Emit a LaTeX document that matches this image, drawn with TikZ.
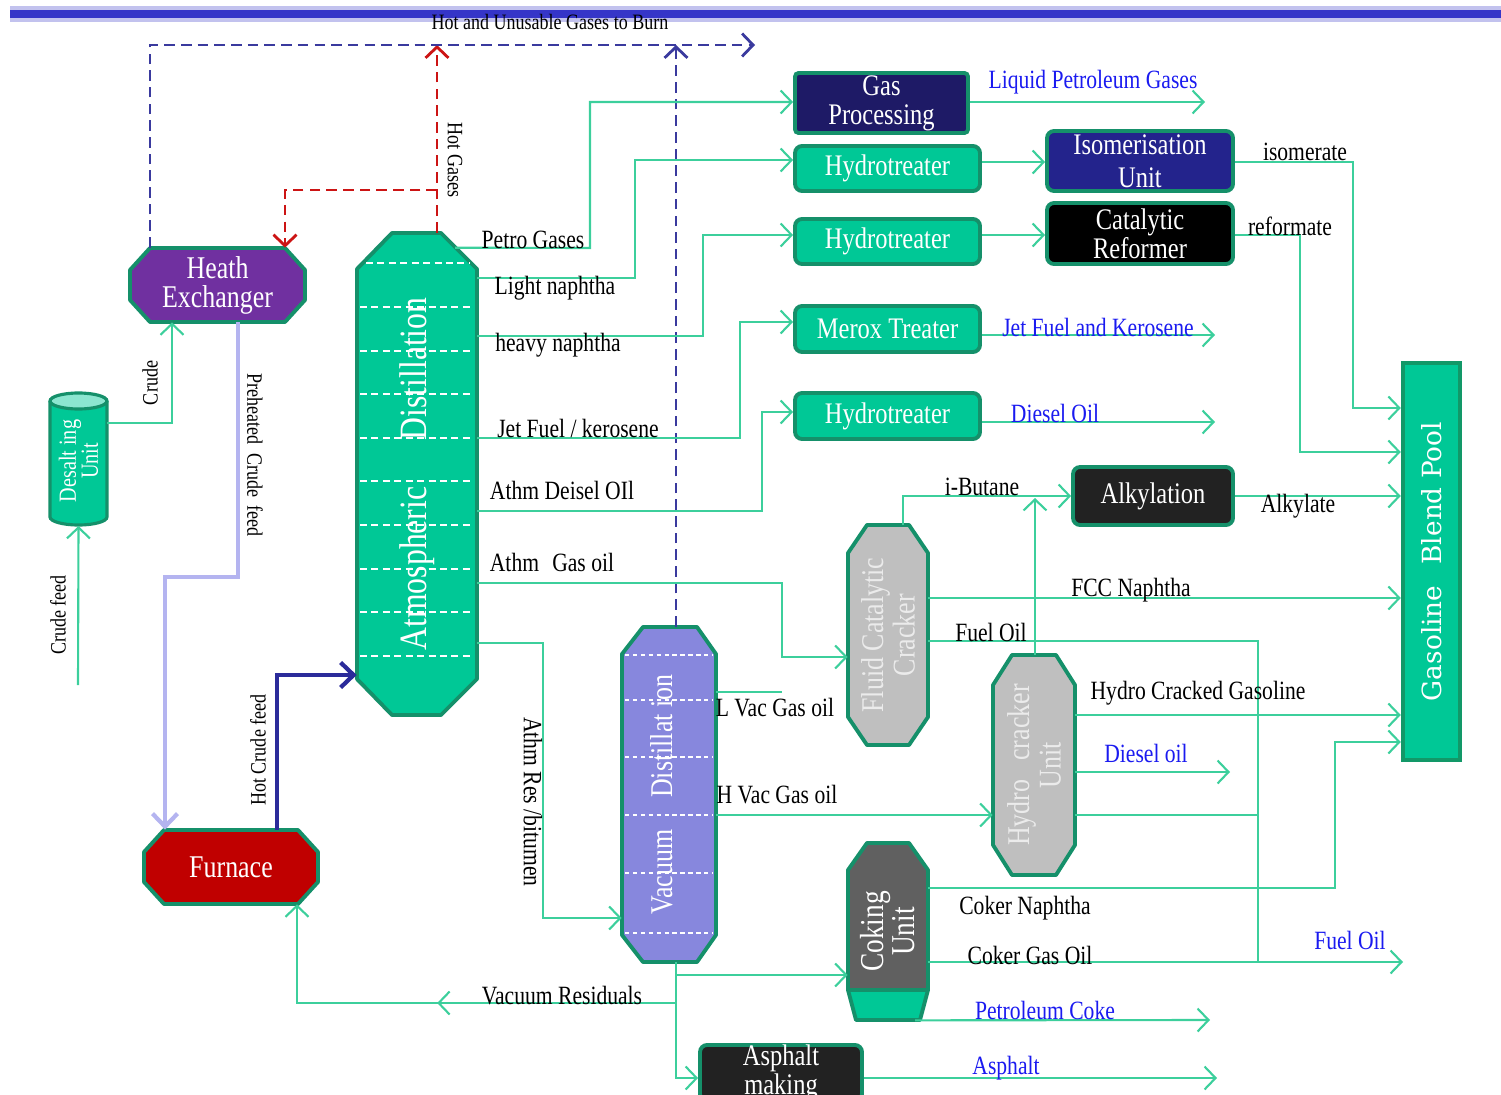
\documentclass[tikz,border=0pt]{standalone}
\usepackage{fontspec}
\setmainfont{Liberation Serif}[FakeStretch=0.82]
\newfontfamily\poolfont{DejaVu Serif}
\usepackage{tikz}
\usetikzlibrary{shapes, arrows.meta, positioning, calc, decorations.markings}

\definecolor{unitgreen}{HTML}{00C896}
\definecolor{unitedge}{HTML}{15906A}
\definecolor{flowgreen}{HTML}{3CCF9C}
\definecolor{hxpurple}{HTML}{7030A0}
\definecolor{furnred}{HTML}{C00000}
\definecolor{vacviolet}{HTML}{8787DD}
\definecolor{crackgray}{HTML}{BFBFBF}
\definecolor{cokegray}{HTML}{606060}
\definecolor{gasnavy}{HTML}{1E1A66}
\definecolor{isonavy}{HTML}{23238C}
\definecolor{alkyblack}{HTML}{222222}
\definecolor{prodblue}{HTML}{1A1AF0}
\definecolor{burnblue}{HTML}{3A3A9E}
\definecolor{hotred}{HTML}{CC1414}
\definecolor{hotnavy}{HTML}{2B2B9A}
\definecolor{preblue}{HTML}{B4B4F0}
\definecolor{bandblue}{HTML}{3535C8}
\definecolor{pooledge}{HTML}{129868}

\begin{document}
\begin{tikzpicture}[
				x=0.02cm, y=-0.02cm,
				unit/.style={
					rectangle,
					draw=unitedge,
					line width=2.2pt,
					text=white,
					align=center,
					inner sep=0pt,
					rounded corners=4pt,
					font=\fontsize{17}{15}\selectfont
				},
				shell/.style={
					rectangle,
					inner sep=0pt,
					text=white,
					align=center,
					font=\fontsize{18}{15}\selectfont
				},
				octedge/.style={draw=unitedge, line width=2.2pt, line join=round},
				trays/.style={draw=white, line width=0.8pt, dash pattern=on 4pt off 2.5pt},
				coltext/.style={rotate=90, text=white, align=center, inner sep=0pt},
				flow/.style={draw=flowgreen, line width=1.2pt},
				arrow/.style={
					flow,
					-{Straight Barb[length=2.2mm, width=4.6mm]}
				},
				midarrow/.style={
					postaction={decorate, decoration={markings,
						mark=at position 0.5 with {\arrow{Straight Barb[length=2.2mm, width=4.6mm]}}}}
				},
				burn/.style={
					draw=burnblue,
					line width=1.6pt,
					dash pattern=on 6pt off 3.5pt,
					-{Straight Barb[length=2.2mm, width=4.6mm]}
				},
				hotgas/.style={burn, draw=hotred},
				preheat/.style={draw=preblue, line width=2.4pt, -{Straight Barb[length=2.6mm, width=5mm]}},
				hotfeed/.style={draw=hotnavy, line width=2.4pt, -{Straight Barb[length=2.6mm, width=5mm]}},
				lbl/.style={inner sep=0pt, font=\fontsize{15}{15}\selectfont},
				prod/.style={lbl, text=prodblue},
				note/.style={inner sep=0pt, font=\fontsize{12.5}{12.5}\selectfont}
				]
				\useasboundingbox (0,0) rectangle (1501,1095);
				
				% Banner at the top
				\draw[draw=bandblue!30, line width=2pt] (10,8) -- (1501,8);
				\draw[draw=bandblue!30, line width=2pt] (10,20) -- (1501,20);
				\draw[draw=bandblue, line width=4pt] (10,14) -- (1501,14);
				
				% Block 1: Heat exchanger
				\draw[octedge, fill=hxpurple] (150,248) -- (285,248) -- (305,270) -- (305,300) -- (285,322) -- (150,322) -- (130,300) -- (130,270) -- cycle;
				\node[shell, minimum width=3.5cm, minimum height=1.48cm, font=\fontsize{18}{16.5}\selectfont] (heatex) at (217.5,285) {Heath\\Exchanger};
				
				% Block 2: Desalting unit
				\fill[unitgreen] (50,401) -- (50,517) arc[start angle=180, end angle=360, x radius=0.57cm, y radius=0.16cm] -- (107,401) -- cycle;
				\draw[unitedge, line width=1.8pt] (50,401) -- (50,517) arc[start angle=180, end angle=360, x radius=0.57cm, y radius=0.16cm] -- (107,401);
				\draw[unitedge, line width=1.8pt, fill=unitgreen!45!white] (78.5,401) ellipse[x radius=0.57cm, y radius=0.16cm];
				\node[rectangle, inner sep=0pt, minimum width=1.14cm, minimum height=2.64cm,
					label={[coltext, font=\fontsize{14}{12.5}\selectfont]center:Desalt ing\\Unit}] (desalt) at (78.5,461) {};
				
				% Block 3: Furnace
				\draw[octedge, fill=furnred] (164,830) -- (298,830) -- (318,852) -- (318,882) -- (298,904) -- (164,904) -- (144,882) -- (144,852) -- cycle;
				\node[shell, minimum width=3.48cm, minimum height=1.48cm] (furnace) at (231,867) {Furnace};
				
				% Block 4: Atmospheric distillation
				\draw[octedge, fill=unitgreen] (392,233) -- (441,233) -- (477,269) -- (477,679) -- (441,715) -- (392,715) -- (357,679) -- (357,269) -- cycle;
				\draw[trays] (366,263) -- (469,263);
				\foreach \yy in {307,351,394,438,481,525,569,612,656}
					\draw[trays] (360,\yy) -- (474,\yy);
				\node[shell, minimum width=2.4cm, minimum height=9.64cm,
					label={[coltext, font=\fontsize{22}{22}\selectfont]center:Atmospheric\hspace{1.2em}Distillation}] (atm) at (417,474) {};
				
				% Block 5: Vacuum distillation
				\draw[octedge, fill=vacviolet] (643,627) -- (697,627) -- (716,654) -- (716,935) -- (697,962) -- (643,962) -- (622,935) -- (622,654) -- cycle;
				\foreach \yy in {655,700,757,815,873,933}
					\draw[trays, dash pattern=on 2.5pt off 2pt] (625,\yy) -- (713,\yy);
				\node[shell, minimum width=1.88cm, minimum height=6.7cm,
					label={[coltext, yshift=0.15cm, font=\fontsize{18}{18}\selectfont]center:Vacuum\hspace{1em}Distillat ion}] (vac) at (669,794.5) {};
				
				% Block 6: Fluid catalytic cracker
				\draw[octedge, fill=crackgray] (867,525) -- (909,525) -- (928,553) -- (928,717) -- (909,745) -- (867,745) -- (848,717) -- (848,553) -- cycle;
				\node[shell, minimum width=1.6cm, minimum height=4.4cm,
					label={[coltext, text=white!92!black, font=\fontsize{18}{18}\selectfont]center:Fluid Catalytic\\Cracker}] (fcc) at (888,635) {};
				
				% Block 7: Hydrocracker
				\draw[octedge, fill=crackgray] (1012,655) -- (1056,655) -- (1075,685) -- (1075,845) -- (1056,875) -- (1012,875) -- (993,845) -- (993,685) -- cycle;
				\node[shell, minimum width=1.64cm, minimum height=4.4cm,
					label={[coltext, text=white!92!black, font=\fontsize{18}{18}\selectfont]center:Hydro\hspace{0.6em}cracker\\Unit}] (hcu) at (1034,765) {};
				
				% Block 8: Coking unit
				\fill[cokegray] (867,843) -- (909,843) -- (928,870) -- (928,990) -- (848,990) -- (848,870) -- cycle;
				\fill[unitgreen] (848,990) -- (928,990) -- (920,1020) -- (856,1020) -- cycle;
				\draw[octedge] (867,843) -- (909,843) -- (928,870) -- (928,990) -- (920,1020) -- (856,1020) -- (848,990) -- (848,870) -- cycle;
				\draw[octedge] (848,990) -- (928,990);
				\node[shell, minimum width=1.6cm, minimum height=3.54cm,
					label={[coltext, font=\fontsize{19}{16}\selectfont]center:Coking\\Unit}] (coker) at (888,931.5) {};
				
				% Block 9: Treaters and conversion units
				\node[unit, fill=gasnavy, rounded corners=2pt, minimum width=3.46cm, minimum height=1.2cm, font=\fontsize{17}{16.5}\selectfont] (gasproc) at (881.5,103) {Gas\\Processing};
				\node[unit, fill=unitgreen, minimum width=3.7cm, minimum height=0.9cm] (hydA) at (887.5,168.5) {Hydrotreater};
				\node[unit, fill=isonavy, minimum width=3.72cm, minimum height=1.2cm, font=\fontsize{17}{19}\selectfont] (iso) at (1140,161) {Isomerisation\\Unit};
				\node[unit, fill=unitgreen, minimum width=3.7cm, minimum height=0.9cm] (hydB) at (887.5,241.5) {Hydrotreater};
				\node[unit, fill=black, minimum width=3.72cm, minimum height=1.22cm, font=\fontsize{17}{14}\selectfont] (reformer) at (1140,233.5) {Catalytic\\Reformer};
				\node[unit, fill=unitgreen, minimum width=3.7cm, minimum height=0.92cm] (merox) at (887.5,329) {Merox Treater};
				\node[unit, fill=unitgreen, minimum width=3.7cm, minimum height=0.92cm] (hydC) at (887.5,416) {Hydrotreater};
				\node[unit, fill=alkyblack, minimum width=3.2cm, minimum height=1.16cm] (alky) at (1153,496) {Alkylation};
				\node[unit, fill=alkyblack, minimum width=3.24cm, minimum height=1.0cm, font=\fontsize{17}{12}\selectfont] (asphalt) at (781,1073) {Asphalt\\making};
				
				% Block 10: Gasoline blend pool
				\node[rectangle, draw=pooledge, line width=2.5pt, fill=unitgreen, inner sep=0pt,
					minimum width=1.14cm, minimum height=7.94cm,
					label={[coltext, font=\poolfont\fontsize{15}{15}\selectfont]center:Gasoline\hspace{0.8em}Blend Pool}] (pool) at (1431.5,561.5) {};
				
				% Free ends of product lines
				\coordinate (feed) at (78,685);
				\coordinate (lpgout) at (1205,102);
				\coordinate (jetout) at (1215,335);
				\coordinate (dieselout) at (1215,422);
				\coordinate (hcdiesel) at (1230,772);
				\coordinate (fuelout) at (1403,962);
				\coordinate (cokeout) at (1210,1020);
				\coordinate (asphout) at (1217,1078);
				
				% Crude side
				\draw[arrow] (feed) -- (desalt.south |- 0,526);
				\node[note, rotate=90] (feedlbl) at (58,615) {Crude feed};
				\draw[arrow] (desalt.east |- 0,423) -- (172,423) -- (heatex.south -| 172,0);
				\node[note, rotate=90] (crudelbl) at (150,383) {Crude};
				\draw[preheat] (heatex.south -| 238,0) -- (238,577) -- (165,577) -- (furnace.north -| 165,0);
				\node[note, rotate=-90] (prelbl) at (255,455) {Preheated\hspace{0.4em}Crude\hspace{0.4em}feed};
				\draw[hotfeed] (furnace.north -| 277,0) -- (277,675) -- (atm.west |- 0,675);
				\node[note, rotate=90] (hotlbl) at (258,750) {Hot Crude feed};
				
				% Gases to burn
				\draw[hotgas] (atm.north -| 437,0) -- (437,45);
				\draw[hotgas] (437,190) -- (285,190) -- (heatex.north -| 285,0);
				\node[note, rotate=-90] (hotgaslbl) at (455,160) {Hot Gases};
				\draw[burn] (heatex.north -| 150,0) -- (150,45) -- (755,45);
				\draw[burn] (vac.north -| 676,0) -- (676,45);
				\node[note] (burnlbl) at (550,22) {Hot and Unusable Gases to Burn};
				
				% Atmospheric column cuts
				\draw[arrow] ($(atm.north)+(38,15)$) -- (590,248) -- (590,102) -- (gasproc.west |- 0,102);
				\node[lbl] (petrolbl) at (533,240) {Petro Gases};
				\draw[arrow] (atm.east |- 0,278) -- (635,278) -- (635,160) -- (hydA.west |- 0,160);
				\node[lbl] (lightlbl) at (555,288) {Light naphtha};
				\draw[arrow] (atm.east |- 0,336) -- (703,336) -- (703,235) -- (hydB.west |- 0,235);
				\node[lbl] (heavylbl) at (558,345) {heavy naphtha};
				\draw[arrow] (atm.east |- 0,438) -- (740,438) -- (740,322) -- (merox.west |- 0,322);
				\node[lbl] (jetlbl) at (578,428) {Jet Fuel / kerosene};
				\draw[arrow] (atm.east |- 0,511) -- (762,511) -- (762,412) -- (hydC.west |- 0,412);
				\node[lbl] (dieselbl) at (562,490) {Athm Deisel OIl};
				\draw[arrow] (atm.east |- 0,583) -- (782,583) -- (782,657) -- (fcc.west |- 0,657);
				\node[lbl] (gasoillbl) at (552,562) {Athm\hspace{0.5em}Gas oil};
				\draw[arrow] (atm.east |- 0,643) -- (543,643) -- (543,918) -- (vac.west |- 0,918);
				\node[lbl, rotate=-90] (reslbl) at (533,802) {Athm Res /bitumen};
				
				% Vacuum column cuts
				\draw[flow] (vac.east |- 0,692) -- (782,692);
				\node[lbl] (lvaclbl) at (775,708) {L Vac Gas oil};
				\draw[arrow] (vac.east |- 0,815) -- (hcu.west |- 0,815);
				\node[lbl] (hvaclbl) at (777,795) {H Vac Gas oil};
				\draw[arrow] (vac.south -| 676,0) -- (676,1078) -- (asphalt.west |- 0,1078);
				\draw[arrow] (676,975) -- (coker.west |- 0,975);
				\draw[arrow, midarrow] (676,1003) -- (297,1003) -- (furnace.south -| 297,0);
				\node[lbl] (vreslbl) at (562,996) {Vacuum Residuals};
				
				% Light ends and naphtha units
				\draw[arrow] (gasproc.east |- 0,102) -- (lpgout);
				\node[prod] (lpglbl) at (1093,82) {Liquid Petroleum Gases};
				\draw[arrow] (hydA.east |- 0,162) -- (iso.west |- 0,162);
				\draw[arrow] (hydB.east |- 0,235) -- (reformer.west |- 0,235);
				\draw[arrow] (iso.east |- 0,162) -- (1353,162) -- (1353,408) -- (pool.west |- 0,408);
				\node[lbl] (isolbl) at (1305,152) {isomerate};
				\draw[arrow] (reformer.east |- 0,235) -- (1300,235) -- (1300,452) -- (pool.west |- 0,452);
				\node[lbl] (reflbl) at (1290,226) {reformate};
				\draw[arrow] (merox.east |- 0,335) -- (jetout);
				\node[prod] (jetprod) at (1098,327) {Jet Fuel and Kerosene};
				\draw[arrow] (hydC.east |- 0,422) -- (dieselout);
				\node[prod] (dieselprod) at (1055,413) {Diesel Oil};
				
				% Cracking and alkylation
				\draw[arrow] (fcc.north -| 903,0) -- (903,496) -- (alky.west |- 0,496);
				\node[lbl] (butlbl) at (982,487) {i-Butane};
				\draw[arrow] (hcu.north -| 1035,0) -- (1035,498);
				\draw[arrow] (alky.east |- 0,496) -- (pool.west |- 0,496);
				\node[lbl] (alkylbl) at (1298,506) {Alkylate};
				\draw[arrow] (fcc.east |- 0,598) -- (pool.west |- 0,598);
				\node[lbl] (fcclbl) at (1131,590) {FCC Naphtha};
				\draw[flow] (fcc.east |- 0,641) -- (1258,641) -- (1258,962);
				\node[lbl] (fuellbl) at (991,632) {Fuel Oil};
				\draw[arrow] (hcu.east |- 0,715) -- (pool.west |- 0,715);
				\node[lbl] (hcglbl) at (1198,693) {Hydro Cracked Gasoline};
				\draw[arrow] (hcu.east |- 0,772) -- (hcdiesel);
				\node[prod] (hcdlbl) at (1146,753) {Diesel oil};
				\draw[flow] (hcu.east |- 0,815) -- (1258,815);
				
				% Coker products
				\draw[arrow] (coker.east |- 0,888) -- (1335,888) -- (1335,742) -- (pool.west |- 0,742);
				\node[lbl] (cnlbl) at (1025,908) {Coker Naphtha};
				\draw[arrow] (coker.east |- 0,962) -- (fuelout);
				\node[lbl] (cgolbl) at (1030,955) {Coker Gas Oil};
				\node[prod] (fuelprod) at (1350,940) {Fuel Oil};
				\draw[arrow] ($(coker.south)+(27,0)$) -- (cokeout);
				\node[prod] (cokeprod) at (1045,1010) {Petroleum Coke};
				\draw[arrow] (asphalt.east |- 0,1078) -- (asphout);
				\node[prod] (asphprod) at (1006,1068) {Asphalt};
				
			\end{tikzpicture}
\end{document}
